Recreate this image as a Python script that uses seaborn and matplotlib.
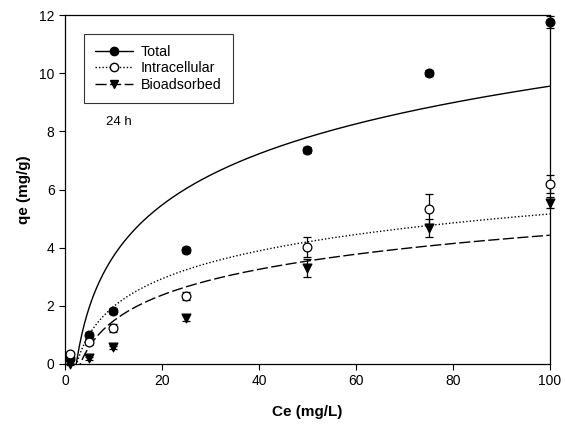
import numpy as np
import pandas as pd
import matplotlib
matplotlib.use("Agg")
import matplotlib.pyplot as plt
from matplotlib.lines import Line2D
import seaborn as sns

# Equilibrium concentration (mg/L)
ce = [1, 5, 10, 25, 50, 75, 100]

# Uptake (mg/g) and standard deviations
qe_total = [0.2, 1.0, 1.82, 3.92, 7.36, 10.0, 11.76]
sd_total = [0.05, 0.1, 0.1, 0.1, 0.1, 0.1, 0.2]
qe_intra = [0.34, 0.76, 1.24, 2.34, 4.02, 5.33, 6.19]
sd_intra = [0.05, 0.1, 0.15, 0.15, 0.35, 0.5, 0.3]
qe_bio = [0.0, 0.2, 0.58, 1.58, 3.3, 4.68, 5.55]
sd_bio = [0.05, 0.05, 0.05, 0.1, 0.3, 0.3, 0.2]

# Temkin isotherm parameters: qe = B * ln(K * Ce)
temkin_B = {"Total": 2.54, "Intracellular": 1.385, "Bioadsorbed": 1.28}
temkin_K = {"Total": 0.43, "Intracellular": 0.415, "Bioadsorbed": 0.318}

series = ["Total", "Intracellular", "Bioadsorbed"]
qe = {"Total": qe_total, "Intracellular": qe_intra, "Bioadsorbed": qe_bio}
sd = {"Total": sd_total, "Intracellular": sd_intra, "Bioadsorbed": sd_bio}

sns.set_style("ticks")
plt.rcParams["font.family"] = ["Liberation Sans", "DejaVu Sans"]
plt.rcParams["text.color"] = "black"
plt.rcParams["axes.labelcolor"] = "black"

fig = plt.figure(figsize=(5.65, 4.30), dpi=100)
ax = fig.add_axes([0.115, 0.1535, 0.858, 0.8115])

styles = {
    "Total": dict(ls="-", marker="o", mfc="black"),
    "Intracellular": dict(ls=(0, (1, 1.5)), marker="o", mfc="white"),
    "Bioadsorbed": dict(ls=(0, (8, 2.5)), marker="v", mfc="black"),
}

# Fitted isotherm curves
ce_fit = np.linspace(0.5, 100, 400)
for name in series:
    fit = pd.DataFrame({"Ce": ce_fit,
                        "qe": temkin_B[name] * np.log(temkin_K[name] * ce_fit)})
    sns.lineplot(data=fit, x="Ce", y="qe", ax=ax, color="black", lw=1.0,
                 linestyle=styles[name]["ls"], legend=False)

# Measured points with error bars
points = pd.DataFrame({
    "Ce": ce * 3,
    "qe": qe_total + qe_intra + qe_bio,
    "series": ["Total"] * 7 + ["Intracellular"] * 7 + ["Bioadsorbed"] * 7,
})
for name in series:
    sub = points[points["series"] == name]
    ax.errorbar(sub["Ce"], sub["qe"], yerr=sd[name], fmt="none",
                ecolor="black", elinewidth=0.9, capsize=3, capthick=0.9,
                clip_on=False, zorder=3)
    sns.scatterplot(data=sub, x="Ce", y="qe", ax=ax, marker=styles[name]["marker"],
                    s=40, color=styles[name]["mfc"], edgecolor="black",
                    linewidth=0.9, clip_on=False, zorder=4, legend=False)

ax.set_xlim(0, 100)
ax.set_ylim(0, 12)
ax.set_xticks(range(0, 101, 20))
ax.set_yticks(range(0, 13, 2))
ax.tick_params(direction="out", length=4, width=0.8, labelsize=10, colors="black",
               top=False, right=False)
for sp in ax.spines.values():
    sp.set_visible(True)
    sp.set_linewidth(0.9)
    sp.set_color("black")

ax.set_xlabel("Ce (mg/L)", fontsize=11, fontweight="bold", labelpad=12)
ax.set_ylabel("qe (mg/g)", fontsize=11, fontweight="bold", labelpad=6)

handles = [
    Line2D([], [], color="black", lw=1.0, ls=styles[n]["ls"],
           marker=styles[n]["marker"], mfc=styles[n]["mfc"], mec="black",
           markersize=6)
    for n in series
]
leg = ax.legend(handles, series, loc="upper left", bbox_to_anchor=(0.039, 0.946),
                borderaxespad=0, fontsize=10.3, frameon=True, fancybox=False,
                edgecolor="black", handlelength=2.7, borderpad=0.75,
                labelspacing=0.2, handletextpad=0.55)
leg.get_frame().set_linewidth(0.8)

ax.text(8.4, 8.32, "24 h", fontsize=9.5, va="center", ha="left")

fig.savefig("out.png", dpi=100)
